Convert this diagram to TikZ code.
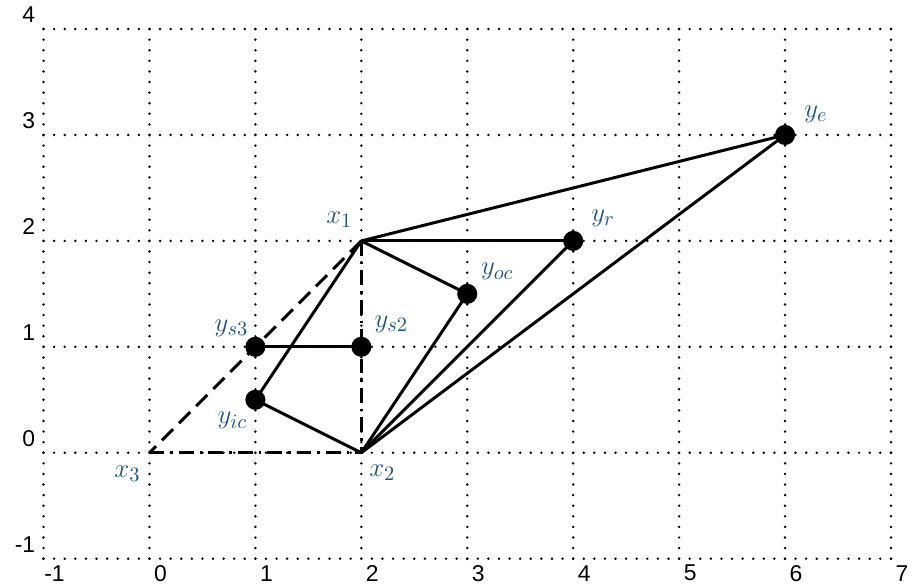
\documentclass[tikz,border=0pt]{standalone}
\usepackage{fontspec}
\newfontfamily\tickfont{Liberation Sans}
\definecolor{lblue}{RGB}{31,82,138}
\begin{document}
\begin{tikzpicture}[x=2cm,y=2cm,
  gridline/.style={line width=1.45pt, line cap=round, dash pattern=on 0pt off 5.69pt},
  edge/.style={line width=1.6pt},
  dashedge/.style={line width=1.6pt, dash pattern=on 8.5pt off 4.5pt},
  dashdot/.style={line width=1.7pt, dash pattern=on 8pt off 3.2pt on 1.4pt off 3.2pt},
  dotnode/.style={circle, fill=black, inner sep=0pt, minimum size=10.8pt},
  lbl/.style={text=lblue, font=\fontsize{15}{17}\selectfont, inner sep=0pt},
  ticklbl/.style={font=\tickfont\fontsize{12.3}{14}\selectfont, inner sep=0pt}]
\useasboundingbox (-1.411,-1.236) rectangle (7.255,4.274);
% grid
\foreach \x in {-1,...,7} {\draw[gridline] (\x,-1) -- (\x,4);}
\foreach \y in {-1,...,4} {\draw[gridline] (-1,\y) -- (7,\y);}
% tick labels
\foreach \x in {-1,...,7} {\node[ticklbl] (tx\x) at (\x+0.104,-1.137) {\x};}
\foreach \y in {-1,...,4} {\node[ticklbl, anchor=east] (ty\y) at (-1.075,\y+0.132) {\y};}
% points
\coordinate (x1) at (2,2);
\coordinate (x2) at (2,0);
\coordinate (x3) at (0,0);
\coordinate (ys3) at (1,1);
\coordinate (ys2) at (2,1);
\coordinate (yic) at (1,0.5);
\coordinate (yoc) at (3,1.5);
\coordinate (yr) at (4,2);
\coordinate (ye) at (6,3);
% connectors
\draw[dashedge] (x1) -- (x3);
\draw[dashdot] (x3) -- (x2);
\draw[dashdot] (x1) -- (x2);
\draw[edge] (x1) -- (ye);
\draw[edge] (x1) -- (yr);
\draw[edge] (x1) -- (yoc);
\draw[edge] (x1) -- (yic);
\draw[edge] (x2) -- (yic);
\draw[edge] (x2) -- (yoc);
\draw[edge] (x2) -- (yr);
\draw[edge] (x2) -- (ye);
\draw[edge] (ys3) -- (ys2);
% dots
\foreach \p in {ys3,ys2,yic,yoc,yr,ye} {\node[dotnode] (d\p) at (\p) {};}
% labels
\node[lbl] (lx1) at (1.792,2.198) {$x_1$};
\node[lbl] (lx2) at (2.198,-0.189) {$x_2$};
\node[lbl] (lx3) at (-0.208,-0.198) {$x_3$};
\node[lbl] (lys2) at (2.283,1.208) {$y_{s2}$};
\node[lbl] (lyr) at (4.283,2.217) {$y_r$};
\node[lbl] (lye) at (6.292,3.198) {$y_e$};
\node[lbl] (lyoc) at (3.283,1.708) {$y_{oc}$};
\node[lbl] (lys3) at (0.774,1.170) {$y_{s3}$};
\node[lbl] (lyic) at (0.783,0.302) {$y_{ic}$};
\end{tikzpicture}
\end{document}
